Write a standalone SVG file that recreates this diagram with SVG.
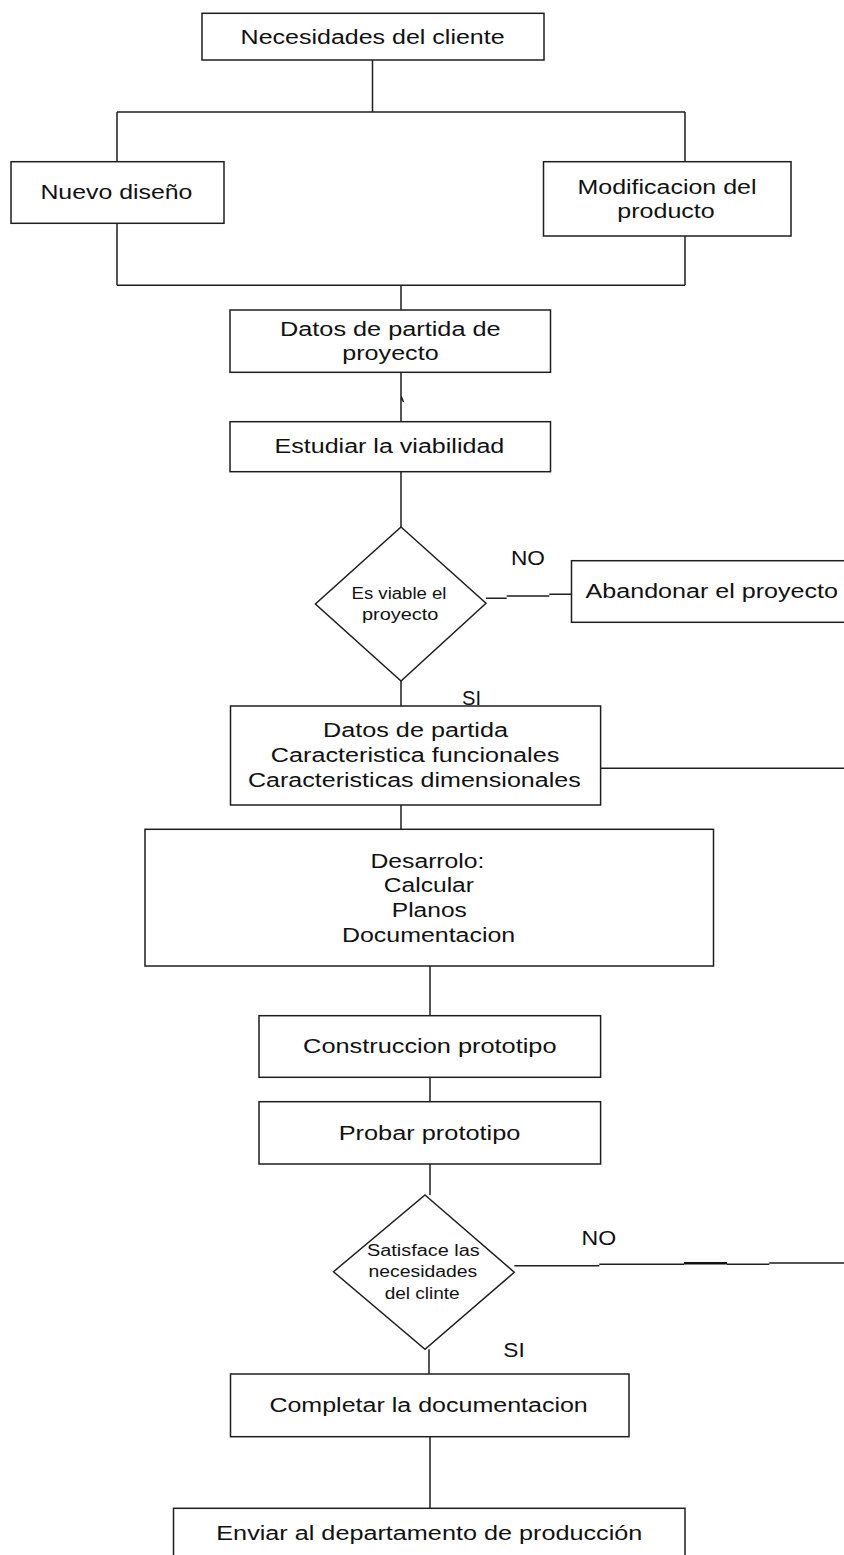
<svg xmlns="http://www.w3.org/2000/svg" width="844" height="1555" viewBox="0 0 844 1555">
<style>
.box{fill:#fff;stroke:#1e1e1e;stroke-width:1.5}
.ln{fill:none;stroke:#1e1e1e;stroke-width:1.5}
.t{font-family:"Liberation Sans",Arial,sans-serif;font-size:19.5px;fill:#111}
.s{font-family:"Liberation Sans",Arial,sans-serif;font-size:16px;fill:#111}
</style>
<rect x="0" y="0" width="844" height="1555" fill="#fff"/>
<g id="connectors">
<path class="ln" d="M372.5 60 V112 M117 112 H685 M117 112 V161.7 M685 112 V161.7"/>
<path class="ln" d="M117 223.3 V285.3 M685 236 V285.3 M117 285.3 H685 M401 285.3 V310"/>
<path class="ln" d="M401 372.3 V421.7 M401 396 L403.5 402"/>
<path class="ln" d="M401 471.7 V527"/>
<path class="ln" d="M486 598.3 H506.7 M506.7 596 H549.3 M549.3 594.3 H571.5"/>
<path class="ln" d="M401 681 V706"/>
<path class="ln" d="M600.6 768.3 H844"/>
<path class="ln" d="M401 805 V829.3"/>
<path class="ln" d="M430 966 V1015.7 M430 1077.3 V1101.7 M430 1164 V1195"/>
<path class="ln" d="M514.3 1265.7 H599.3 M599.3 1264.3 H684 M727 1264.3 H769.3 M769.3 1263 H844"/>
<path fill="none" stroke="#111" stroke-width="2.5" d="M684 1263.3 H727"/>
<path class="ln" d="M429 1349.3 V1374 M430 1436.7 V1508.3"/>
</g>
<g id="n-necesidades">
<rect class="box" x="202" y="13.3" width="342" height="46.7"/>
<text class="t" x="240.6" y="43.5" textLength="264" lengthAdjust="spacingAndGlyphs">Necesidades del cliente</text>
</g>
<g id="n-nuevo">
<rect class="box" x="11" y="161.7" width="213" height="61.6"/>
<text class="t" x="40.4" y="199.3" textLength="152" lengthAdjust="spacingAndGlyphs">Nuevo diseño</text>
</g>
<g id="n-modificacion">
<rect class="box" x="543.5" y="161.7" width="247.5" height="74.3"/>
<text class="t" x="577.5" y="194" textLength="179" lengthAdjust="spacingAndGlyphs">Modificacion del</text>
<text class="t" x="617.3" y="218.3" textLength="97.4" lengthAdjust="spacingAndGlyphs">producto</text>
</g>
<g id="n-datos-proyecto">
<rect class="box" x="230" y="310" width="320.5" height="62.3"/>
<text class="t" x="280" y="335.7" textLength="220.6" lengthAdjust="spacingAndGlyphs">Datos de partida de</text>
<text class="t" x="342.3" y="360" textLength="96.3" lengthAdjust="spacingAndGlyphs">proyecto</text>
</g>
<g id="n-estudiar">
<rect class="box" x="230" y="421.7" width="320.5" height="50"/>
<text class="t" x="274.5" y="453.3" textLength="229.8" lengthAdjust="spacingAndGlyphs">Estudiar la viabilidad</text>
</g>
<g id="n-viable">
<polygon class="box" points="401,527 486,603.3 401,681 315.4,604"/>
<text class="s" x="351.5" y="599" textLength="95" lengthAdjust="spacingAndGlyphs">Es viable el</text>
<text class="s" x="362" y="620" textLength="76.4" lengthAdjust="spacingAndGlyphs">proyecto</text>
</g>
<g id="l-no1">
<text class="t" x="511" y="565" textLength="34" lengthAdjust="spacingAndGlyphs">NO</text>
</g>
<g id="n-abandonar">
<rect class="box" x="571.5" y="560.7" width="290" height="61.6"/>
<text class="t" x="585.6" y="598.3" textLength="252.4" lengthAdjust="spacingAndGlyphs">Abandonar el proyecto</text>
</g>
<g id="l-si1">
<text class="t" x="462" y="705" textLength="19" lengthAdjust="spacingAndGlyphs">SI</text>
</g>
<g id="n-datos-partida">
<rect class="box" x="230.5" y="706" width="370.1" height="99"/>
<text class="t" x="323" y="737.3" textLength="185" lengthAdjust="spacingAndGlyphs">Datos de partida</text>
<text class="t" x="270.8" y="762.3" textLength="288.5" lengthAdjust="spacingAndGlyphs">Caracteristica funcionales</text>
<text class="t" x="248" y="786.7" textLength="332.7" lengthAdjust="spacingAndGlyphs">Caracteristicas dimensionales</text>
</g>
<g id="n-desarrolo">
<rect class="box" x="145" y="829.3" width="568.5" height="136.7"/>
<text class="t" x="370.5" y="868.3" textLength="113.9" lengthAdjust="spacingAndGlyphs">Desarrolo:</text>
<text class="t" x="383.8" y="892.3" textLength="90.2" lengthAdjust="spacingAndGlyphs">Calcular</text>
<text class="t" x="391.8" y="916.7" textLength="75" lengthAdjust="spacingAndGlyphs">Planos</text>
<text class="t" x="342" y="941.7" textLength="173.2" lengthAdjust="spacingAndGlyphs">Documentacion</text>
</g>
<g id="n-construccion">
<rect class="box" x="259" y="1015.7" width="341.6" height="61.6"/>
<text class="t" x="303.1" y="1053.3" textLength="253.4" lengthAdjust="spacingAndGlyphs">Construccion prototipo</text>
</g>
<g id="n-probar">
<rect class="box" x="259" y="1101.7" width="341.6" height="62.3"/>
<text class="t" x="338.7" y="1140" textLength="181.7" lengthAdjust="spacingAndGlyphs">Probar prototipo</text>
</g>
<g id="n-satisface">
<polygon class="box" points="425,1195 514.3,1272.3 425,1349.3 333.5,1271.7"/>
<text class="s" x="367.1" y="1256" textLength="112.5" lengthAdjust="spacingAndGlyphs">Satisface las</text>
<text class="s" x="368.6" y="1277.3" textLength="108.6" lengthAdjust="spacingAndGlyphs">necesidades</text>
<text class="s" x="384.7" y="1299" textLength="75" lengthAdjust="spacingAndGlyphs">del clinte</text>
</g>
<g id="l-no2">
<text class="t" x="581.6" y="1245" textLength="34.6" lengthAdjust="spacingAndGlyphs">NO</text>
</g>
<g id="l-si2">
<text class="t" x="503.3" y="1356.7" textLength="21.4" lengthAdjust="spacingAndGlyphs">SI</text>
</g>
<g id="n-completar">
<rect class="box" x="230.5" y="1374" width="398.5" height="62.7"/>
<text class="t" x="269.4" y="1412.3" textLength="318.4" lengthAdjust="spacingAndGlyphs">Completar la documentacion</text>
</g>
<g id="n-enviar">
<rect class="box" x="173.5" y="1508.3" width="511.5" height="60"/>
<text class="t" x="216.3" y="1540" textLength="426" lengthAdjust="spacingAndGlyphs">Enviar al departamento de producción</text>
</g>
</svg>
